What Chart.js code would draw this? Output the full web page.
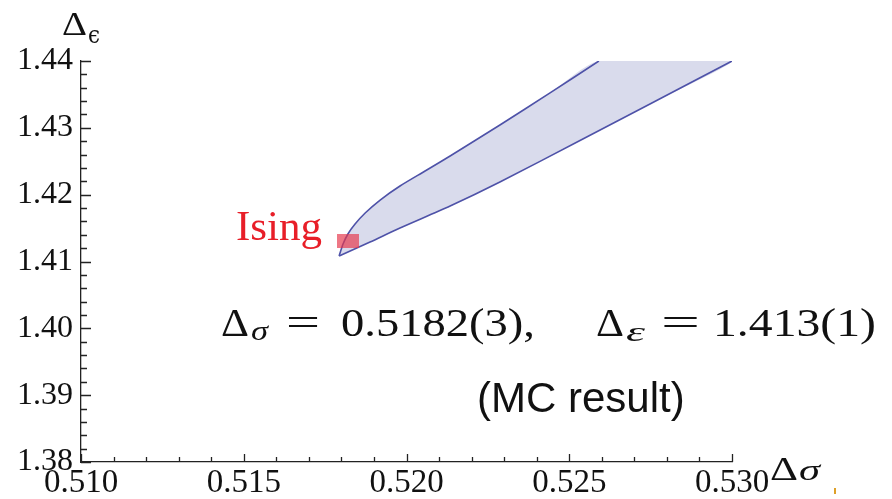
<!DOCTYPE html>
<html>
<head>
<meta charset="utf-8">
<script src="https://cdn.jsdelivr.net/npm/chart.js@4.4.1/dist/chart.umd.min.js"></script>
<style>
html,body{margin:0;padding:0;background:#ffffff;}
#wrap{width:892px;height:499px;position:relative;overflow:hidden;}
canvas{display:block;}
</style>
</head>
<body>
<div id="wrap"><canvas id="c" width="892" height="499"></canvas></div>
<script>
// ---- data ----
const xMajorValues = [0.510, 0.515, 0.520, 0.525, 0.530];
const xMajorLabels = ["0.510", "0.515", "0.520", "0.525", "0.530"];
const xTickValues = [0.510,0.511,0.512,0.513,0.514,0.515,0.516,0.517,0.518,0.519,0.520,
                     0.521,0.522,0.523,0.524,0.525,0.526,0.527,0.528,0.529,0.530];
const yMajorValues = [1.38, 1.39, 1.40, 1.41, 1.42, 1.43, 1.44];
const yMajorLabels = ["1.38", "1.39", "1.40", "1.41", "1.42", "1.43", "1.44"];
const yTickValues = [1.380,1.382,1.384,1.386,1.388,1.390,1.392,1.394,1.396,1.398,
                     1.400,1.402,1.404,1.406,1.408,1.410,1.412,1.414,1.416,1.418,
                     1.420,1.422,1.424,1.426,1.428,1.430,1.432,1.434,1.436,1.438,1.440];

// lower boundary of the allowed region
const lowerX = [0.51793, 0.51888, 0.51980, 0.52134, 0.52287, 0.52533, 0.52748, 0.53000];
const lowerY = [1.41083, 1.41292, 1.41501, 1.41830, 1.42190, 1.42810, 1.43357, 1.44000];
// upper boundary of the allowed region
const upperX = [0.51793, 0.51805, 0.51820, 0.51842, 0.51873, 0.51919, 0.51980, 0.52057, 0.52134, 0.52287, 0.52441, 0.52591];
const upperY = [1.41083, 1.41262, 1.41412, 1.41561, 1.41726, 1.41920, 1.42130, 1.42354, 1.42579, 1.43043, 1.43522, 1.44000];
// Ising (MC result) point
const isingX = [0.5182];
const isingY = [1.413];

const xMin = 0.510, xMax = 0.530, yMin = 1.38, yMax = 1.44;

// ---- build library structures from arrays ----
const lowerPts = lowerX.map((x, i) => ({x, y: lowerY[i]}));
const upperPts = upperX.map((x, i) => ({x, y: upperY[i]}));
const regionPts = lowerPts.concat(upperPts.slice().reverse());
const isingPts = isingX.map((x, i) => ({x, y: isingY[i]}));

function near(v, arr) { return arr.findIndex(a => Math.abs(a - v) < 1e-7); }

const sq = document.createElement('canvas');
sq.width = 22; sq.height = 14;
(function(){ const g = sq.getContext('2d'); g.fillStyle = 'rgba(230,55,75,0.68)'; g.fillRect(0,0,22,14); })();

const LINE = 'rgb(78,82,168)';
const FILL = 'rgb(217,219,236)';
const AXIS = '#222';
const TENSION = 0.25;

function fitText(ctx, text, font, x0, x1, base) {
  ctx.font = font;
  const w = ctx.measureText(text).width;
  const sx = (x1 - x0) / w;
  ctx.save();
  ctx.translate(x0, base);
  ctx.scale(sx, 1);
  ctx.textAlign = 'left';
  ctx.textBaseline = 'alphabetic';
  ctx.fillText(text, 0, 0);
  ctx.restore();
}

const decorPlugin = {
  id: 'decor',
  afterDraw(chart) {
    const {ctx, scales: {x, y}, chartArea: a} = chart;
    ctx.save();
    // inward ticks
    ctx.strokeStyle = AXIS;
    ctx.lineWidth = 1.3;
    ctx.beginPath();
    xTickValues.forEach(v => {
      const px = Math.round(x.getPixelForValue(v)) + 0.5;
      const len = near(v, xMajorValues) >= 0 ? 8 : 5;
      ctx.moveTo(px, a.bottom); ctx.lineTo(px, a.bottom - len);
    });
    yTickValues.forEach(v => {
      const py = Math.round(y.getPixelForValue(v)) + 0.5;
      const len = near(v, yMajorValues) >= 0 ? 10 : 6;
      ctx.moveTo(a.left, py); ctx.lineTo(a.left + len, py);
    });
    ctx.stroke();

    // axis titles
    ctx.fillStyle = '#111';
    const serif = '"Liberation Serif", "DejaVu Serif", serif';
    fitText(ctx, 'Δ', '33px ' + serif, 62, 87, 35);
    fitText(ctx, 'ϵ', '24px "DejaVu Serif", serif', 88, 100, 43);
    fitText(ctx, 'Δ', '33px ' + serif, 770, 798, 480);
    fitText(ctx, 'σ', 'italic 30px ' + serif, 799, 820, 480);

    // Ising label next to its point
    const ipx = x.getPixelForValue(isingX[0]);
    const ipy = y.getPixelForValue(isingY[0]);
    ctx.fillStyle = 'rgb(232,30,40)';
    ctx.textAlign = 'right';
    ctx.textBaseline = 'alphabetic';
    ctx.font = '43px ' + serif;
    ctx.fillText('Ising', ipx - 26, ipy - 1);

    // formula
    ctx.fillStyle = '#111';
    const up = '39px ' + serif;
    const it = 'italic 27px ' + serif;
    fitText(ctx, 'Δ', up, 221, 249, 336);
    fitText(ctx, 'σ', it, 251, 268, 340);
    fitText(ctx, '=', up, 286, 320, 336);
    fitText(ctx, '0.5182(3),', up, 341, 535, 336);
    fitText(ctx, 'Δ', up, 596, 624, 336);
    fitText(ctx, 'ε', it, 626, 645, 341);
    fitText(ctx, '=', up, 661, 700, 336);
    fitText(ctx, '1.413(1)', up, 713, 876, 336);

    // (MC result)
    ctx.textAlign = 'left';
    ctx.font = '42px "Liberation Sans", Arial, sans-serif';
    ctx.fillText('(MC result)', 477, 412);

    // small orange slide mark
    ctx.fillStyle = 'rgb(222,160,40)';
    ctx.fillRect(834, 488, 2, 6);
    ctx.restore();
  }
};

new Chart(document.getElementById('c'), {
  type: 'line',
  data: {
    datasets: [
      { data: isingPts, showLine: false, pointStyle: sq, pointRadius: 11,
        pointBackgroundColor: 'rgba(230,55,75,0.68)', pointBorderWidth: 0, order: 0 },
      { data: upperPts, borderColor: LINE, borderWidth: 1.6, pointRadius: 0, fill: false, tension: TENSION, order: 1 },
      { data: lowerPts, borderColor: LINE, borderWidth: 1.6, pointRadius: 0, fill: false, tension: TENSION, order: 1 },
      { data: regionPts, borderWidth: 0, borderColor: 'rgba(0,0,0,0)', backgroundColor: FILL,
        pointRadius: 0, fill: 'shape', tension: TENSION, order: 3 }
    ]
  },
  options: {
    responsive: false,
    animation: false,
    devicePixelRatio: 1,
    layout: { padding: { left: 0, top: 61, right: 160, bottom: 0 } },
    plugins: { legend: { display: false }, tooltip: { enabled: false } },
    scales: {
      x: {
        type: 'linear', min: xMin, max: xMax, position: 'bottom',
        afterBuildTicks: s => { s.ticks = xTickValues.map(v => ({value: v})); },
        afterFit: s => { s.height = 37; },
        grid: { display: false, drawTicks: false },
        border: { display: true, color: AXIS, width: 1.3 },
        ticks: {
          autoSkip: false, maxRotation: 0, minRotation: 0, padding: 2,
          color: '#111',
          font: { family: '"Liberation Serif", serif', size: 33 },
          callback: v => { const i = near(v, xMajorValues); return i >= 0 ? xMajorLabels[i] : ''; }
        }
      },
      y: {
        type: 'linear', min: yMin, max: yMax, position: 'left',
        afterBuildTicks: s => { s.ticks = yTickValues.map(v => ({value: v})); },
        afterFit: s => { s.width = 81; },
        grid: { display: false, drawTicks: false },
        border: { display: true, color: AXIS, width: 1.3 },
        ticks: {
          autoSkip: false, padding: 8,
          color: '#111',
          font: { family: '"Liberation Serif", serif', size: 32 },
          callback: v => { const i = near(v, yMajorValues); return i >= 0 ? yMajorLabels[i] : ''; }
        }
      }
    }
  },
  plugins: [decorPlugin]
});
</script>
</body>
</html>
